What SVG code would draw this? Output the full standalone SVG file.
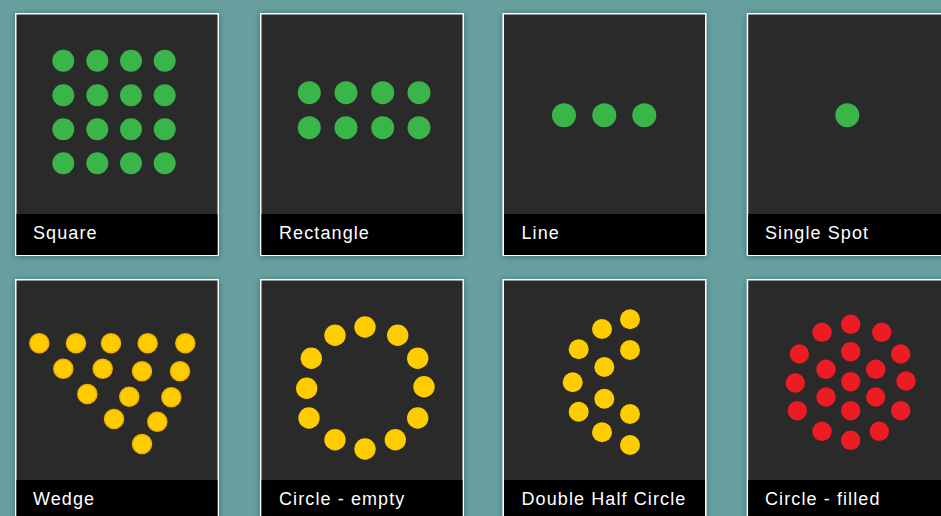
<svg xmlns="http://www.w3.org/2000/svg" width="941" height="516" viewBox="0 0 941 516">
<defs>
<filter id="sh" x="-10%" y="-10%" width="120%" height="120%">
<feDropShadow dx="0" dy="1" stdDeviation="3" flood-color="#1f4a4c" flood-opacity="0.55"/>
</filter>
</defs>
<style>
.card{fill:#2b292c;stroke:#ffffff;stroke-width:1.5;filter:url(#sh)}
.bar{fill:#000000}
.lbl{font-family:"Liberation Sans",Arial,sans-serif;font-size:18px;letter-spacing:1.1px;fill:#ffffff}
.g{fill:#3ab54a}
.y{fill:#ffcc00}
.yw{fill:#ffcc00;stroke:#f2b200;stroke-width:1.5}
.r{fill:#ed1c24}
</style>
<rect width="941" height="516" fill="#68a0a0"/>

<g id="square">
<rect class="card" x="15.75" y="13.75" width="202.5" height="241.5"/>
<rect class="bar" x="16.5" y="214" width="201" height="41"/>
<text class="lbl" x="33" y="239">Square</text>
<g class="g">
<circle cx="63.3" cy="60.7" r="11"/><circle cx="97.3" cy="60.7" r="11"/><circle cx="131" cy="60.7" r="11"/><circle cx="164.7" cy="60.7" r="11"/>
<circle cx="63.3" cy="95.3" r="11"/><circle cx="97.3" cy="95.3" r="11"/><circle cx="131" cy="95.3" r="11"/><circle cx="164.7" cy="95.3" r="11"/>
<circle cx="63.3" cy="129.3" r="11"/><circle cx="97.3" cy="129.3" r="11"/><circle cx="131" cy="129.3" r="11"/><circle cx="164.7" cy="129.3" r="11"/>
<circle cx="63.3" cy="163.3" r="11"/><circle cx="97.3" cy="163.3" r="11"/><circle cx="131" cy="163.3" r="11"/><circle cx="164.7" cy="163.3" r="11"/>
</g>
</g>

<g id="rectangle">
<rect class="card" x="260.75" y="13.75" width="202.5" height="241.5"/>
<rect class="bar" x="261.5" y="214" width="201" height="41"/>
<text class="lbl" x="279" y="239">Rectangle</text>
<g class="g">
<circle cx="309.3" cy="92.7" r="11.5"/><circle cx="346" cy="92.7" r="11.5"/><circle cx="382.7" cy="92.7" r="11.5"/><circle cx="419" cy="92.7" r="11.5"/>
<circle cx="309.3" cy="127.7" r="11.5"/><circle cx="346" cy="127.7" r="11.5"/><circle cx="382.7" cy="127.7" r="11.5"/><circle cx="419" cy="127.7" r="11.5"/>
</g>
</g>

<g id="line">
<rect class="card" x="503.25" y="13.75" width="202.5" height="241.5"/>
<rect class="bar" x="504" y="214" width="201" height="41"/>
<text class="lbl" x="521.5" y="239">Line</text>
<g class="g">
<circle cx="564" cy="115.3" r="12"/><circle cx="604.3" cy="115.3" r="12"/><circle cx="644.3" cy="115.3" r="12"/>
</g>
</g>

<g id="single-spot">
<rect class="card" x="747.5" y="13.75" width="202.5" height="241.5"/>
<rect class="bar" x="748.25" y="214" width="201" height="41"/>
<text class="lbl" x="765" y="239">Single Spot</text>
<circle class="g" cx="847.3" cy="115.3" r="12"/>
</g>

<g id="wedge">
<rect class="card" x="15.75" y="279.75" width="202.5" height="241.5"/>
<rect class="bar" x="16.5" y="480" width="201" height="41"/>
<text class="lbl" x="33" y="505">Wedge</text>
<g class="yw">
<circle cx="39.3" cy="343.3" r="9.5"/><circle cx="76" cy="343.3" r="9.5"/><circle cx="111" cy="343.3" r="9.5"/><circle cx="147.7" cy="343.3" r="9.5"/><circle cx="185.3" cy="343.3" r="9.5"/>
<circle cx="63.3" cy="368.7" r="9.5"/><circle cx="102.7" cy="368.7" r="9.5"/><circle cx="142" cy="371.3" r="9.5"/><circle cx="180" cy="371.3" r="9.5"/>
<circle cx="87.3" cy="394" r="9.5"/><circle cx="129.3" cy="396.7" r="9.5"/><circle cx="171.3" cy="397.3" r="9.5"/>
<circle cx="114" cy="419" r="9.5"/><circle cx="157.3" cy="421.7" r="9.5"/>
<circle cx="142" cy="444" r="9.5"/>
</g>
</g>

<g id="circle-empty">
<rect class="card" x="260.75" y="279.75" width="202.5" height="241.5"/>
<rect class="bar" x="261.5" y="480" width="201" height="41"/>
<text class="lbl" x="279" y="505">Circle - empty</text>
<g class="y">
<circle cx="365" cy="327" r="10.7"/><circle cx="335" cy="335.3" r="10.7"/><circle cx="397.7" cy="335.3" r="10.7"/>
<circle cx="311.3" cy="358.3" r="10.7"/><circle cx="417.7" cy="358.3" r="10.7"/>
<circle cx="306.7" cy="388.3" r="10.7"/><circle cx="424" cy="386.7" r="10.7"/>
<circle cx="309" cy="418" r="10.7"/><circle cx="417.7" cy="418" r="10.7"/>
<circle cx="335" cy="439.7" r="10.7"/><circle cx="395.3" cy="439.7" r="10.7"/><circle cx="365" cy="449" r="10.7"/>
</g>
</g>

<g id="double-half-circle">
<rect class="card" x="503.25" y="279.75" width="202.5" height="241.5"/>
<rect class="bar" x="504" y="480" width="201" height="41"/>
<text class="lbl" x="521.5" y="505">Double Half Circle</text>
<g class="y">
<circle cx="630" cy="319.3" r="10"/><circle cx="602" cy="329" r="10"/><circle cx="578.7" cy="349.3" r="10"/><circle cx="630" cy="350" r="10"/>
<circle cx="604.3" cy="367" r="10"/><circle cx="572.7" cy="382.3" r="10"/><circle cx="604.3" cy="398.7" r="10"/>
<circle cx="578.7" cy="411.7" r="10"/><circle cx="630" cy="414" r="10"/><circle cx="602" cy="432.3" r="10"/><circle cx="630" cy="445" r="10"/>
</g>
</g>

<g id="circle-filled">
<rect class="card" x="747.5" y="279.75" width="202.5" height="241.5"/>
<rect class="bar" x="748.25" y="480" width="201" height="41"/>
<text class="lbl" x="765" y="505">Circle - filled</text>
<g class="r">
<circle cx="850.7" cy="324.3" r="9.7"/><circle cx="822" cy="332.3" r="9.7"/><circle cx="881.7" cy="332.3" r="9.7"/>
<circle cx="799.3" cy="354" r="9.7"/><circle cx="900.7" cy="354" r="9.7"/><circle cx="850.7" cy="351.7" r="9.7"/>
<circle cx="826" cy="369.3" r="9.7"/><circle cx="875.7" cy="369.3" r="9.7"/>
<circle cx="795.3" cy="383" r="9.7"/><circle cx="906" cy="381" r="9.7"/><circle cx="850.7" cy="381.7" r="9.7"/>
<circle cx="826" cy="397" r="9.7"/><circle cx="875.7" cy="397" r="9.7"/>
<circle cx="797.3" cy="410.7" r="9.7"/><circle cx="900.7" cy="410.7" r="9.7"/><circle cx="850.7" cy="410.7" r="9.7"/>
<circle cx="822" cy="431.3" r="9.7"/><circle cx="879.3" cy="431.3" r="9.7"/><circle cx="850.7" cy="440.3" r="9.7"/>
</g>
</g>

<g id="connectors"></g>
</svg>
